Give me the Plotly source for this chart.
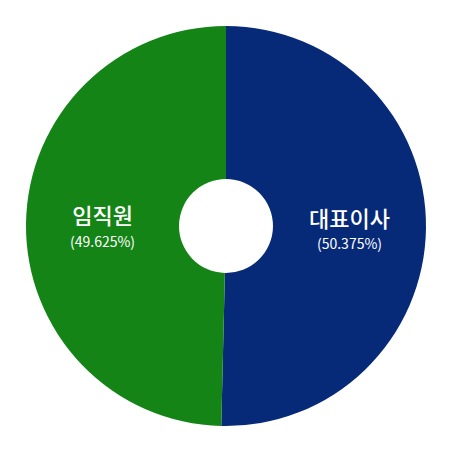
import plotly.graph_objects as go

labels = ["대표이사", "임직원"]
values = [50.375, 49.625]
pct_text = ["(50.375%)", "(49.625%)"]
colors = ["#062a78", "#148416"]

fig = go.Figure(go.Pie(
    labels=labels,
    values=values,
    customdata=pct_text,
    hole=0.235,
    sort=False,
    direction="clockwise",
    rotation=0,
    marker=dict(colors=colors, line=dict(width=0)),
    textposition="inside",
    insidetextorientation="horizontal",
    texttemplate=("<span style='font-size:22px;font-weight:500'>%{label}</span><br>"
                  "<span style='font-size:14px'>%{customdata}</span>"),
    textfont=dict(family="Noto Sans CJK KR", size=17, color="white"),
    showlegend=False,
))

fig.update_layout(
    width=450, height=450,
    margin=dict(l=18, r=32, t=18, b=32),
    paper_bgcolor="white",
)

fig.write_html("out.html")
